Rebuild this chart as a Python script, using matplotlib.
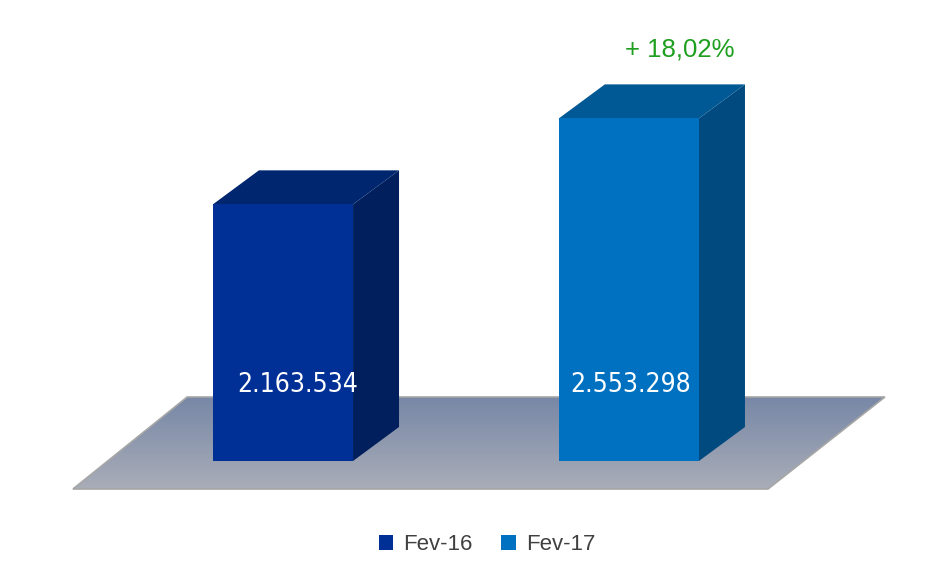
import matplotlib.pyplot as plt
from matplotlib.patches import Polygon, Patch
from matplotlib.colors import LinearSegmentedColormap
import numpy as np

periods = ['Fev-16', 'Fev-17']
values = [2163534, 2553298]
value_labels = ['2.163.534', '2.553.298']
growth_label = '+ 18,02%'

front_colors = ['#003096', '#0070c0']
side_colors = ['#001f5c', '#004a7f']
top_colors = ['#00266f', '#005894']

W, H = 942, 577
fig = plt.figure(figsize=(W / 100, H / 100), dpi=100)
ax = fig.add_axes([0, 0, 1, 1])

# value axis (the chart does not start at zero)
y_lo, y_hi = 474000, 3090000
base = 1000000
ax.set_ylim(y_lo, y_hi)
ax.set_xlim(-0.818, 1.905)
ax.axis('off')

upp = (y_hi - y_lo) / H          # value units per pixel
ppx = 1 / 346.0                  # x units per pixel
bw = 0.405                       # bar width
dx, dy = 46 * ppx, 34 * upp      # depth of the 3d look
label_shift = [15 * ppx, 2 * ppx]

def py(p):
    return y_lo + (H - p) * upp

# floor
floor = [(-0.277, py(397)), (1.740, py(397)), (1.402, py(489)), (-0.607, py(489))]
poly = Polygon(floor, closed=True, facecolor='none', edgecolor='#a6a6a6', lw=1.2, zorder=1)
ax.add_patch(poly)
cmap = LinearSegmentedColormap.from_list('floor', ['#a9adb8', '#7787a6'])
grad = np.linspace(0, 1, 256).reshape(-1, 1)
im = ax.imshow(grad, cmap=cmap, aspect='auto', origin='lower',
               extent=[-0.607, 1.740, py(489), py(397)], zorder=0.5)
im.set_clip_path(poly)

for i, v in enumerate(values):
    l, r = i - bw / 2, i + bw / 2
    side = [(r, base), (r + dx, base + dy), (r + dx, v + dy), (r, v)]
    top = [(l, v), (l + dx, v + dy), (r + dx, v + dy), (r, v)]
    front = [(l, base), (r, base), (r, v), (l, v)]
    ax.add_patch(Polygon(side, closed=True, facecolor=side_colors[i], edgecolor='none', zorder=2))
    ax.add_patch(Polygon(top, closed=True, facecolor=top_colors[i], edgecolor='none', zorder=2))
    ax.add_patch(Polygon(front, closed=True, facecolor=front_colors[i], edgecolor='none', zorder=3))
    ax.text(i + label_shift[i], py(385), value_labels[i], color='white', ha='center', va='center',
            fontsize=19, family='DejaVu Sans', fontstretch='condensed', zorder=4)

ax.text(1 + 51 * ppx, py(50), growth_label, color='#1f9f1f', ha='center', va='center',
        fontsize=18.5, family=['Liberation Sans', 'DejaVu Sans'])

handles = [Patch(facecolor=c, edgecolor='none') for c in front_colors]
fig.legend(handles, periods, loc='center', bbox_to_anchor=(0.517, 1 - 545 / H), ncol=2,
           frameon=False, handlelength=0.65, handleheight=0.65,
           handletextpad=0.45, columnspacing=1.3, labelcolor='#404040',
           prop={'family': ['Liberation Sans', 'DejaVu Sans'], 'size': 16})

fig.savefig('out.png', dpi=100)
